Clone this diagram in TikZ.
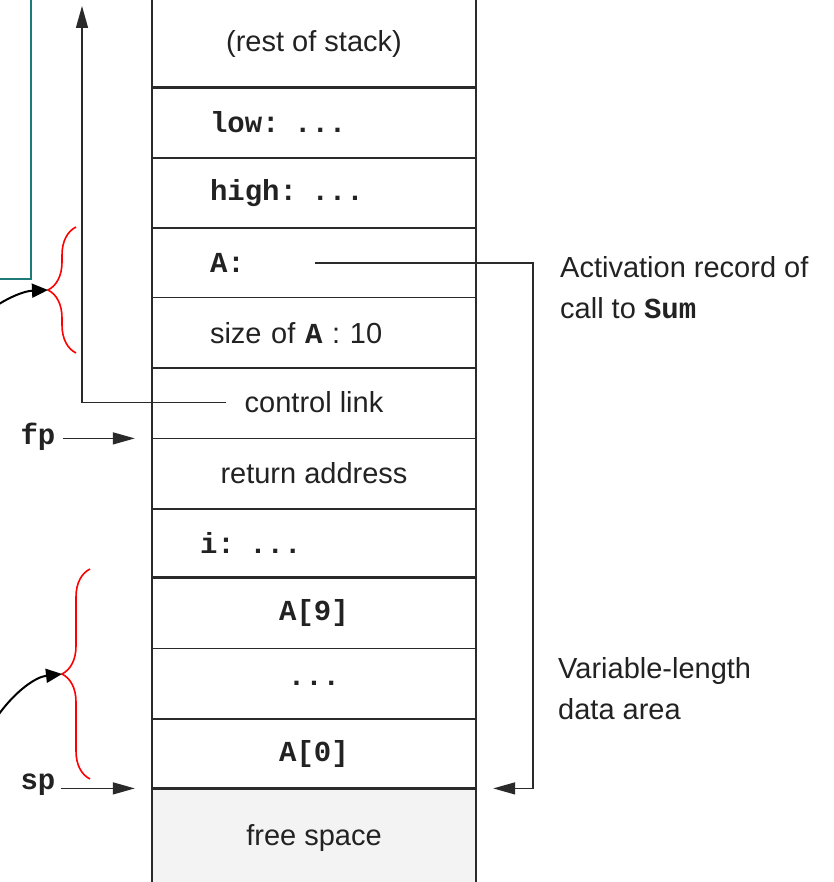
\documentclass[tikz,border=0pt]{standalone}
\usepackage{fontspec}
\setmainfont{Liberation Sans}
\setmonofont{Liberation Mono}
\usetikzlibrary{arrows.meta,decorations.pathreplacing,calc}
\newcommand{\mcode}[1]{{\ttfamily\bfseries #1}}
\definecolor{ink}{HTML}{222222}
\definecolor{lineclr}{HTML}{2A2A2A}
\definecolor{tealbox}{HTML}{1F7A7A}
\definecolor{freefill}{HTML}{F3F3F3}
\begin{document}
\begin{tikzpicture}[x=1pt,y=-1pt,
  cell/.style={minimum width=324pt, inner sep=0pt, anchor=north, text=ink,
    font=\fontsize{29}{34}\selectfont},
  lcell/.style={cell, inner xsep=58pt, text width=208pt, align=left},
  icell/.style={cell, inner xsep=48pt, text width=228pt, align=left},
  sepline/.style={draw=lineclr, line width=1.5pt},
  thickline/.style={draw=lineclr, line width=3pt},
  colline/.style={draw=lineclr, line width=1.6pt},
  ptr/.style={draw=lineclr, line width=1.4pt, -{Triangle[length=22pt,width=12pt]}},
  curv/.style={draw=black, line width=2pt, -{Triangle[length=16pt,width=14pt]}},
  redbrace/.style={draw=red, line width=1.6pt,
    decorate, decoration={brace, amplitude=28pt, aspect=0.5}},
  lbl/.style={text=ink, font=\fontsize{29}{41}\selectfont, align=left, inner sep=0pt, anchor=west},
  ptrlbl/.style={text=ink, font=\fontsize{29}{34}\selectfont\ttfamily\bfseries, inner sep=0pt}
]
\useasboundingbox (0,0) rectangle (833,882);

% cells
\node[cell, minimum height=87pt] (rest) at (314,0) {(rest of stack)};
\node[lcell, minimum height=70pt] (low) at (rest.south) {\mcode{low: ...}};
\node[lcell, minimum height=70pt] (high) at (low.south) {\mcode{high: ...}};
\node[lcell, minimum height=69pt] (arr) at (high.south) {\mcode{A:}};
\node[lcell, minimum height=70pt] (size) at (arr.south) {size of \mcode{A} : 10};
\node[cell, minimum height=70pt] (ctl) at (size.south) {};
\node[cell, minimum height=70pt] (ret) at (ctl.south) {return address};
\node[icell, minimum height=68pt] (ivar) at (ret.south) {\mcode{i: ...}};
\node[cell, minimum height=71pt] (a9) at (ivar.south) {\mcode{A[9]}};
\node[cell, minimum height=70pt] (dots) at (a9.south) {\mcode{...}};
\node[cell, minimum height=69pt] (a0) at (dots.south) {\mcode{A[0]}};
\node[cell, minimum height=98pt, fill=freefill] (free) at (a0.south) {free space};
\node[text=ink, font=\fontsize{29}{34}\selectfont, inner xsep=18pt, inner ysep=0pt]
  (ctltxt) at ($(ctl.center)+(0,-1)$) {control link};

% separators
\draw[thickline] (rest.south west) -- (rest.south east);
\draw[sepline] (low.south west) -- (low.south east);
\draw[sepline] (high.south west) -- (high.south east);
\draw[sepline] (arr.south west) -- (arr.south east);
\draw[sepline] (size.south west) -- (size.south east);
\draw[sepline] (ctl.south west) -- (ctl.south east);
\draw[sepline] (ret.south west) -- (ret.south east);
\draw[thickline] (ivar.south west) -- (ivar.south east);
\draw[sepline] (a9.south west) -- (a9.south east);
\draw[sepline] (dots.south west) -- (dots.south east);
\draw[thickline] (a0.south west) -- (a0.south east);
\draw[colline] (rest.north west) -- (free.south west);
\draw[colline] (rest.north east) -- (free.south east);

% control link
\coordinate (ctop) at (82,6);
\draw[ptr] (ctltxt.west) -| (ctop);

% A pointer
\coordinate (aptr) at (315,263);
\draw[ptr, shorten >=17pt] (aptr) -- ++(218,0) |- (free.north east);

% fp, sp
\node[ptrlbl] (fp) at (38,437) {fp};
\node[ptrlbl] (sp) at (38,785) {sp};
\draw[ptr, shorten >=17pt] ([xshift=7pt]fp.east |- ret.north west) -- (ret.north west);
\draw[ptr, shorten >=17pt] ([xshift=5pt]sp.east |- free.north west) -- (free.north west);

% teal box
\draw[tealbox, line width=1.6pt] (-2,279) -- (31,279) -- (31,-2);

% braces
\coordinate (b1lo) at (76,353);
\coordinate (b1hi) at (76,227);
\coordinate (b2lo) at (90,779);
\coordinate (b2hi) at (90,569);
\draw[redbrace] (b1lo) -- (b1hi);
\draw[redbrace] (b2lo) -- (b2hi);
\coordinate (tip1) at (48,290);
\coordinate (tip2) at (62,674);
\coordinate (c1) at (-1,304);
\coordinate (c2) at (-1,714);
\draw[curv] (c1) .. controls (12,296) and (25,291) .. (tip1);
\draw[curv] (c2) .. controls (15,692) and (35,677) .. (tip2);

% labels
\node[lbl] (actlbl) at (560,288) {Activation record of\\call to \mcode{Sum}};
\node[lbl] (varlbl) at (558,689) {Variable-length\\data area};
\end{tikzpicture}
\end{document}
